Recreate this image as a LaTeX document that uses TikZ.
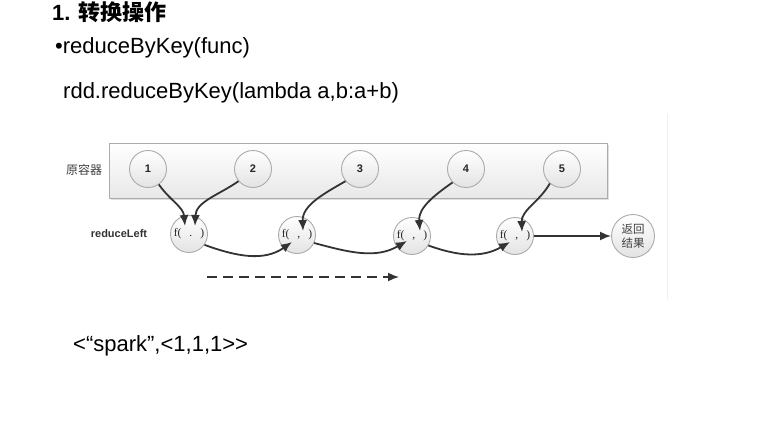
\documentclass[tikz,border=0pt]{standalone}
\usepackage{fontspec}
\setmainfont{Liberation Sans}
\newfontfamily\cjk{Noto Sans CJK SC}
\newfontfamily\serifnum{Liberation Serif}
\usetikzlibrary{arrows.meta,shadows,calc}
\definecolor{linegray}{HTML}{ABABAB}
\definecolor{arrowgray}{HTML}{333333}
\begin{document}
\begin{tikzpicture}[x=1pt,y=1pt,
  txt/.style={anchor=base west,inner sep=0pt,font=\fontsize{22}{24}\selectfont},
  ball/.style={circle,minimum size=37pt,inner sep=0pt,draw=linegray,line width=0.9pt,
    top color=white,bottom color=black!11},
  fball/.style={ball,font=\serifnum\fontsize{11.5}{11.5}\selectfont,text=black!85},
  numlab/.style={font=\bfseries\fontsize{11}{11}\selectfont,text=black!85},
  feed/.style={draw=arrowgray,line width=1.8pt,-{Latex[length=11pt,width=9pt]}},
]
\useasboundingbox (0,0) rectangle (771,-434);
% texts
\node[txt,font=\bfseries\fontsize{22}{24}\selectfont] (title) at (52,-20) {1. {\cjk\bfseries 转换操作}};
\node[txt] (l1) at (55,-53) {\textbullet reduceByKey(func)};
\node[txt] (l2) at (63,-98) {rdd.reduceByKey(lambda a,b:a+b)};
\node[txt] (l3) at (73,-351) {<\kern0pt“spark”,<1,1,1>\kern0pt>};
% faint frame of embedded picture
\draw[black!6,line width=0.8pt] (667,-114) -- (667,-300);
% container box
\node[draw=linegray,line width=0.8pt,top color=white,bottom color=black!9,
  minimum width=498pt,minimum height=55pt,inner sep=0pt,
  drop shadow={shadow xshift=1.5pt,shadow yshift=-1.5pt,opacity=0.25}] (box) at (358,-170.5) {};
\node[font=\cjk\fontsize{12}{12}\selectfont,text=black!75,anchor=center] (orig) at (84,-170) {原容器};
\node[font=\bfseries\fontsize{11}{11}\selectfont,text=black!80,anchor=center] (rl) at (119,-234) {reduceLeft};
% element circles
\node[ball,numlab] (n1) at (148,-169) {1};
\node[ball,numlab] (n2) at (253,-169) {2};
\node[ball,numlab] (n3) at (360,-169) {3};
\node[ball,numlab] (n4) at (466,-169) {4};
\node[ball,numlab] (n5) at (562,-169) {5};
% function circles
\node[fball] (f1) at (189,-234) {f(\hspace{8pt}.\hspace{8pt})};
\node[fball] (f2) at (297,-235) {f(\hspace{8pt},\hspace{8pt})};
\node[fball] (f3) at (412,-236) {f(\hspace{8pt},\hspace{8pt})};
\node[fball] (f4) at (515,-236) {f(\hspace{8pt},\hspace{8pt})};
\node[ball,minimum size=43pt,font=\cjk\fontsize{11.5}{14}\selectfont,text=black!75,align=center] (res) at (633,-236) {返回\\结果};
% arrow targets
\coordinate (t1a) at ($(f1.center)+(-4,8)$);
\coordinate (t1b) at ($(f1.center)+(6,8)$);
\coordinate (t2) at ($(f2.center)+(6,4)$);
\coordinate (t3) at ($(f3.center)+(8,5)$);
\coordinate (t4) at ($(f4.center)+(7,4)$);
\coordinate (s2) at ($(f2.center)+(-5,-7)$);
\coordinate (s3) at ($(f3.center)+(-5,-5)$);
\coordinate (s4) at ($(f4.center)+(-5,-6)$);
% feeds from container
\draw[feed] (n1.-55) to[out=-55,in=95] (t1a);
\draw[feed] (n2.-140) to[out=-145,in=88] (t1b);
\draw[feed] (n3.-140) to[out=-150,in=92] (t2);
\draw[feed] (n4.-135) to[out=-145,in=95] (t3);
\draw[feed] (n5.-130) to[out=-120,in=92] (t4);
% chain
\draw[feed] (f1.-35) to[out=-20,in=-145] (s2);
\draw[feed] (f2.-25) to[out=-15,in=-150] (s3);
\draw[feed] (f3.-30) to[out=-20,in=-150] (s4);
\draw[feed] (f4.east) -- (res.west);
% direction arrow
\coordinate (da) at (207,-277);
\coordinate (db) at (399,-277);
\draw[draw=arrowgray,line width=1.6pt,dash pattern=on 10pt off 6pt,-{Latex[length=11pt,width=9pt]}] (da) -- (db);
\end{tikzpicture}
\end{document}
